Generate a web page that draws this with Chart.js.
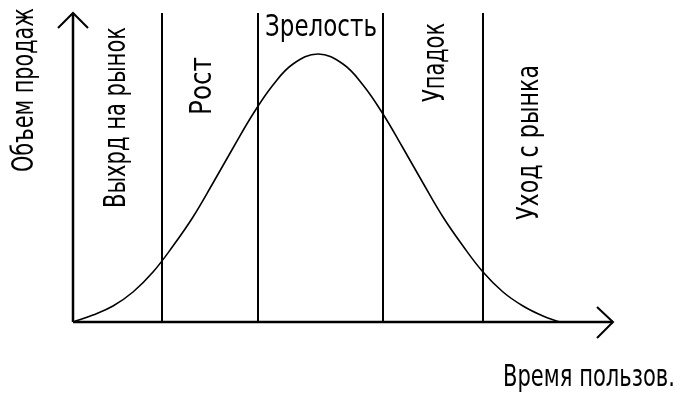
<!DOCTYPE html>
<html>
<head>
<meta charset="utf-8">
<script src="https://cdn.jsdelivr.net/npm/chart.js@4/dist/chart.umd.min.js"></script>
<style>
  html, body { margin: 0; padding: 0; background: #fff; }
  #wrap { width: 687px; height: 401px; }
</style>
</head>
<body>
<div id="wrap"><canvas id="plc" width="687" height="401"></canvas></div>
<script>
// product life cycle (time units / sales units)
const timeX = [0, 20, 40, 60, 80, 100, 120, 140, 160, 180, 200, 220, 245, 270, 290, 310, 330, 350, 370, 390, 410, 430, 450, 470, 487];
const sales = [0, 7, 16, 30, 50, 76, 105, 139, 174, 208, 237, 258, 268, 258, 237, 208, 174, 139, 105, 76, 50, 30, 16, 6, 0];
const stageBounds = [89, 185, 310, 410];
const stageLabels = ['Выхрд на рынок', 'Рост', 'Зрелость', 'Упадок', 'Уход с рынка'];
const xTitle = 'Время пользов.';
const yTitle = 'Объем продаж';
const xMax = 540;
const yMax = 309;

const FONT = '"DejaVu Sans Condensed", "Liberation Sans Narrow", "DejaVu Sans", sans-serif';

const curve = timeX.map(function(x, i){ return {x: x, y: sales[i]} });

const datasets = [{
  data: curve,
  borderColor: '#000',
  borderWidth: 1.6,
  pointRadius: 0,
  tension: 0.4,
  clip: false
}];
stageBounds.forEach(function(b){
  datasets.push({
    data: [{x: b, y: 0}, {x: b, y: yMax}],
    borderColor: '#000',
    borderWidth: 2,
    pointRadius: 0,
    clip: false
  })
});

// draws a string stretched/squeezed to a given length along its direction
function fitText(ctx, text, x, y, rot, len) {
  ctx.save()
  ctx.translate(x, y)
  ctx.rotate(rot)
  const w = ctx.measureText(text).width
  ctx.scale(len / w, 1)
  ctx.fillText(text, 0, 0)
  ctx.restore()
}

const lifeCycle = {
  id: 'lifeCycle',
  afterDatasetsDraw: function(chart){
    const ctx = chart.ctx
    const xs = chart.scales.x
    const ys = chart.scales.y
    const x0 = xs.getPixelForValue(0)
    const x1 = xs.getPixelForValue(xMax)
    const y0 = ys.getPixelForValue(0)
    const y1 = ys.getPixelForValue(yMax)

    ctx.save()
    ctx.strokeStyle = '#000'
    ctx.lineWidth = 2.5
    ctx.lineCap = 'butt'
    ctx.beginPath()
    ctx.moveTo(x0, y0); ctx.lineTo(x1, y0)
    ctx.moveTo(x0, y0); ctx.lineTo(x0, y1)
    ctx.stroke()

    ctx.lineWidth = 2
    ctx.beginPath()
    ctx.moveTo(x1 - 16, y0 - 15); ctx.lineTo(x1, y0); ctx.lineTo(x1 - 16, y0 + 16)
    ctx.moveTo(x0 - 15, y1 + 15); ctx.lineTo(x0, y1); ctx.lineTo(x0 + 15, y1 + 15)
    ctx.stroke()

    ctx.fillStyle = '#000'
    ctx.font = '31px ' + FONT
    ctx.textBaseline = 'alphabetic'
    ctx.textAlign = 'left'
    const up = -Math.PI / 2

    fitText(ctx, yTitle, 33, 172, up, 164)
    fitText(ctx, stageLabels[0], 125, 208, up, 181)
    fitText(ctx, stageLabels[1], 211, 115, up, 58)
    fitText(ctx, stageLabels[2], 265, 36, 0, 112)
    fitText(ctx, stageLabels[3], 444, 102, up, 79)
    fitText(ctx, stageLabels[4], 538, 220, up, 155)
    fitText(ctx, xTitle, 503, 386, 0, 172)
    ctx.restore()
  }
};

new Chart(document.getElementById('plc'), {
  type: 'scatter',
  data: { datasets: datasets },
  options: {
    responsive: false,
    animation: false,
    showLine: true,
    layout: { padding: { left: 73, right: 74, top: 13, bottom: 79 } },
    plugins: { legend: { display: false }, tooltip: { enabled: false } },
    scales: {
      x: { type: 'linear', min: 0, max: xMax, display: false },
      y: { type: 'linear', min: 0, max: yMax, display: false }
    }
  },
  plugins: [lifeCycle]
});
</script>
</body>
</html>
